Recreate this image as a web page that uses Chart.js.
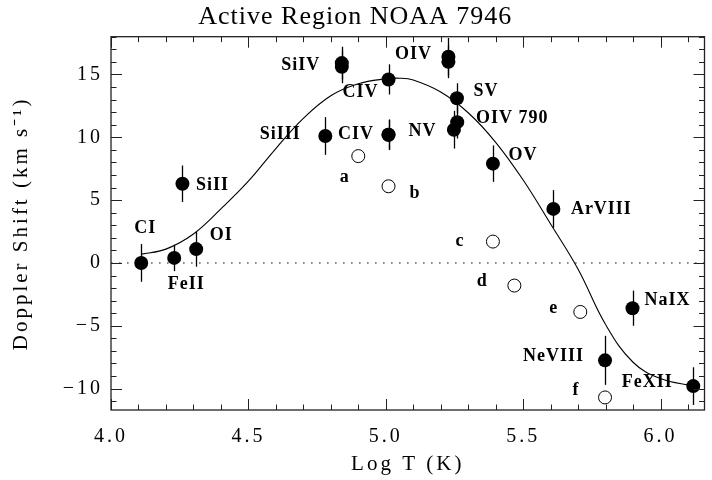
<!DOCTYPE html>
<html><head><meta charset="utf-8">
<script src="https://cdn.jsdelivr.net/npm/chart.js@4/dist/chart.umd.min.js"></script>
<style>html,body{margin:0;padding:0;background:#fff}canvas{display:block}</style>
</head><body>
<canvas id="c" width="712" height="480"></canvas>
<script>
// ---------- data ----------
const chartTitle = 'Active Region NOAA 7946';
const xTitle = 'Log T (K)';
const yTitle = 'Doppler Shift (km s⁻¹)';
const xTicks = [4.0, 4.5, 5.0, 5.5, 6.0];
const yTicks = [-10, -5, 0, 5, 10, 15];

// measured lines (filled circles, with error bars)
const lineNames = ['CI','FeII','OI','SiII','SiIII','SiIV','SiIV','CIV','CIV','NV','OIV','OIV','SV','OIV 790','OIV 790','OV','ArVIII','NeVIII','NaIX','FeXII'];
const lineLogT  = [4.11, 4.23, 4.31, 4.26, 4.78, 4.84, 4.84, 5.01, 5.01, 5.01, 5.228, 5.228, 5.259, 5.26, 5.248, 5.39, 5.61, 5.798, 5.898, 6.119];
const lineShift = [0.0, 0.4, 1.1, 6.3, 10.1, 15.9, 15.6, 14.6, 10.2, 10.2, 16.4, 16.0, 13.1, 11.2, 10.6, 7.9, 4.3, -7.75, -3.6, -9.8];
const lineErr   = [1.5, 1.05, 1.4, 1.45, 1.5, 1.3, 1.3, 1.2, 1.2, 1.2, 1.5, 1.3, 1.2, 1.3, 1.5, 1.45, 1.5, 1.95, 1.4, 1.5];

// open circles
const openNames = ['a','b','c','d','e','f'];
const openLogT  = [4.90, 5.01, 5.39, 5.468, 5.708, 5.798];
const openShift = [8.5, 6.1, 1.7, -1.8, -3.9, -10.7];

// fitted curve
const fitLogT  = [4.11, 4.2, 4.3, 4.4, 4.5, 4.6, 4.7, 4.8, 4.9, 5.0, 5.05, 5.1, 5.2, 5.3, 5.4, 5.5, 5.6, 5.7, 5.8, 5.9, 6.0, 6.12];
const fitShift = [0.7, 1.1, 2.3, 4.3, 6.5, 9.1, 11.5, 13.3, 14.25, 14.65, 14.7, 14.55, 13.6, 11.95, 9.6, 6.6, 3.1, -0.5, -4.9, -7.9, -9.2, -9.8];

// ---------- label placement (pixel offsets from the point) ----------
const lineLabelPlace = [
  {i:0, dx:4, dy:-35}, {i:1, dx:12, dy:26}, {i:2, dx:25, dy:-14}, {i:3, dx:30, dy:2},
  {i:4, dx:-45, dy:-2}, {i:5, dx:-41, dy:2}, {i:7, dx:-28, dy:13}, {i:8, dx:-32.5, dy:0},
  {i:9, dx:34, dy:-3}, {i:10, dx:-35, dy:-2}, {i:12, dx:29, dy:-6.5}, {i:13, dx:55, dy:-4},
  {i:15, dx:30, dy:-8}, {i:16, dx:48, dy:0}, {i:17, dx:-51.5, dy:-4}, {i:18, dx:35, dy:-8},
  {i:19, dx:-46, dy:-4}
];
const openLabelPlace = [
  {i:0, dx:-13.5, dy:21}, {i:1, dx:26.5, dy:7}, {i:2, dx:-33, dy:0},
  {i:3, dx:-32, dy:-4}, {i:4, dx:-26.5, dy:-4}, {i:5, dx:-29, dy:-7}
];

const SERIF = '"Liberation Serif", "Times New Roman", serif';
Chart.defaults.font.family = SERIF;
Chart.defaults.color = '#000';

const X_MIN = 4.0, X_MAX = 6.16, Y_MIN = -11.7, Y_MAX = 18;

const decor = {
  id: 'decor',
  beforeDraw(chart) {
    chart.ctx.letterSpacing = '3px';
    const tb = chart.titleBlock;
    if (tb && !tb._wrapped) {
      const orig = tb.draw;
      tb.draw = function(...a) { const c = this.ctx; c.save(); c.letterSpacing = '1px'; orig.apply(this, a); c.restore(); };
      tb._wrapped = true;
    }
  },
  beforeDatasetsDraw(chart) {
    const {ctx, scales: {x, y}} = chart;
    ctx.save();
    ctx.strokeStyle = '#000';
    ctx.lineWidth = 1.3;
    lineLogT.forEach((t, i) => {
      const px = Math.round(x.getPixelForValue(t)) + 0.5;
      ctx.beginPath();
      ctx.moveTo(px, y.getPixelForValue(lineShift[i] - lineErr[i]));
      ctx.lineTo(px, y.getPixelForValue(lineShift[i] + lineErr[i]));
      ctx.stroke();
    });
    ctx.restore();
  },
  afterDatasetsDraw(chart) {
    const ctx = chart.ctx;
    ctx.save();
    ctx.letterSpacing = '1px';
    ctx.font = 'bold 18px ' + SERIF;
    ctx.fillStyle = '#000';
    ctx.textAlign = 'center';
    ctx.textBaseline = 'middle';
    const m0 = chart.getDatasetMeta(0).data, m1 = chart.getDatasetMeta(1).data;
    lineLabelPlace.forEach(p => { const el = m0[p.i]; ctx.fillText(lineNames[p.i], el.x + p.dx, el.y + p.dy); });
    openLabelPlace.forEach(p => { const el = m1[p.i]; ctx.fillText(openNames[p.i], el.x + p.dx, el.y + p.dy); });
    ctx.restore();
  },
  afterDraw(chart) {
    const {ctx, chartArea: a, scales: {x, y}} = chart;
    ctx.save();
    ctx.strokeStyle = '#222';
    ctx.lineWidth = 1.3;
    ctx.strokeRect(a.left, a.top, a.right - a.left, a.bottom - a.top);
    ctx.lineWidth = 1;
    ctx.beginPath();
    const MAJ = 11, MIN = 5.5;
    for (let k = 0; k <= 21; k++) {
      const v = 4.0 + k * 0.1;
      const px = Math.round(x.getPixelForValue(v)) + 0.5;
      const len = (k % 5 === 0) ? MAJ : MIN;
      ctx.moveTo(px, a.bottom); ctx.lineTo(px, a.bottom - len);
      ctx.moveTo(px, a.top); ctx.lineTo(px, a.top + len);
    }
    for (let v = -11; v <= 18; v++) {
      const py = Math.round(y.getPixelForValue(v)) + 0.5;
      const len = (v % 5 === 0) ? MAJ : MIN;
      ctx.moveTo(a.left, py); ctx.lineTo(a.left + len, py);
      ctx.moveTo(a.right, py); ctx.lineTo(a.right - len, py);
    }
    ctx.stroke();
    ctx.restore();
  }
};

new Chart(document.getElementById('c'), {
  type: 'scatter',
  data: {
    datasets: [
      { label: 'lines', order: 0,
        data: lineLogT.map((t, i) => ({x: t, y: lineShift[i]})),
        pointRadius: 7, pointBackgroundColor: '#000', pointBorderColor: '#000', pointBorderWidth: 0, showLine: false },
      { label: 'open', order: 1,
        data: openLogT.map((t, i) => ({x: t, y: openShift[i]})),
        pointRadius: 6.5, pointBackgroundColor: '#fff', pointBorderColor: '#000', pointBorderWidth: 1, showLine: false },
      { label: 'fit', type: 'line', order: 2,
        data: fitLogT.map((t, i) => ({x: t, y: fitShift[i]})),
        borderColor: '#000', borderWidth: 1.1, pointRadius: 0, fill: false, tension: 0.4 },
      { label: 'zero', type: 'line', order: 3,
        data: [{x: X_MIN, y: 0}, {x: X_MAX, y: 0}],
        borderColor: '#666', borderWidth: 1.6, borderDash: [1.6, 6.4], pointRadius: 0, fill: false }
    ]
  },
  options: {
    responsive: false, animation: false, events: [],
    layout: { padding: { left: 0, right: 1.5, top: 0, bottom: 0 } },
    plugins: {
      legend: { display: false }, tooltip: { enabled: false },
      title: { display: true, text: chartTitle, color: '#000', font: { size: 26, weight: 'normal', family: SERIF }, padding: { top: 2, bottom: 3.5 } }
    },
    scales: {
      x: {
        type: 'linear', min: X_MIN, max: X_MAX,
        border: { display: false }, grid: { display: false, drawTicks: false },
        afterBuildTicks: s => { s.ticks = xTicks.map(v => ({value: v})); },
        ticks: { padding: 15, color: '#000', font: { size: 20 }, maxRotation: 0, autoSkip: false, callback: v => Number(v).toFixed(1) },
        title: { display: true, text: xTitle, color: '#000', font: { size: 21 }, padding: { top: 0, bottom: 3 } },
        afterFit: s => { s.height = 70; }
      },
      y: {
        type: 'linear', min: Y_MIN, max: Y_MAX,
        border: { display: false }, grid: { display: false, drawTicks: false },
        afterBuildTicks: s => { s.ticks = yTicks.map(v => ({value: v})); },
        ticks: { padding: 8, color: '#000', font: { size: 20 }, autoSkip: false, callback: v => (v < 0 ? '\u2212' + Math.abs(v) : String(v)) },
        title: { display: true, text: yTitle, color: '#000', font: { size: 21 }, padding: { top: 9, bottom: 0 } },
        afterFit: s => { s.width = 111; }
      }
    }
  },
  plugins: [decor]
});
</script>
</body></html>
